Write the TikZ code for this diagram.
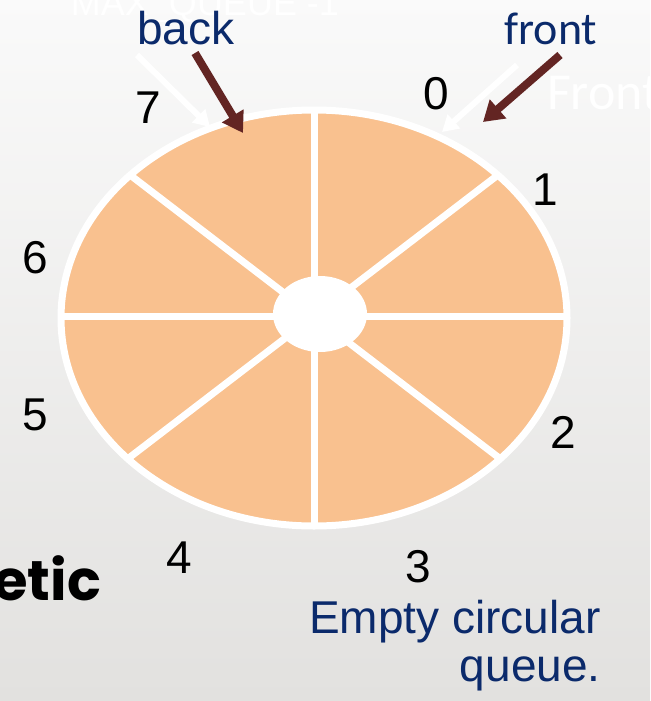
\documentclass[tikz,border=0pt]{standalone}
\usepackage{fontspec}
\setmainfont{Liberation Sans}
\newfontfamily\calfont{Carlito}
\newfontfamily\headfont{Poppins}
\usetikzlibrary{arrows.meta}
\definecolor{peach}{HTML}{F9C18F}
\definecolor{navy}{HTML}{0B2A6B}
\definecolor{arrowred}{HTML}{632523}
\definecolor{bgtop}{HTML}{FAFAFA}
\definecolor{bgbottom}{HTML}{E2E1DF}

\begin{document}
\begin{tikzpicture}[x=0.5pt,y=-0.5pt,font=\fontsize{23}{24}\selectfont,
  redarrow/.style={draw=arrowred,line width=4pt,-{Triangle[width=12pt,length=10pt]}},
  whitearrow/.style={draw=white,line width=3pt,-{Triangle[width=9pt,length=8pt]}},
  divider/.style={draw=white,line width=3.5pt}]
\useasboundingbox (0,0) rectangle (650,701);
\clip (0,0) rectangle (650,701);
\shade[top color=bgtop,bottom color=bgbottom] (0,0) rectangle (650,701);

\node[text=white,anchor=base,font=\fontsize{18}{20}\selectfont] (maxq) at (205,16) {MAX\_QUEUE -1};
\node[text=white,anchor=base west,font=\calfont\fontsize{26}{28}\selectfont] (frontw) at (540,110) {Front};

\coordinate (ctr) at (314,316);
\fill[peach] (314,318) ellipse [x radius=253,y radius=208];
\foreach \a in {0,43,90,137,180,223,270,317} {
  \draw[divider] (ctr) -- ++(\a:253 and 208);
}
\draw[white,line width=3.5pt] (314,318) ellipse [x radius=253,y radius=208];
\fill[white] (320,314) ellipse [x radius=47,y radius=38];

\foreach \i/\x/\y in {0/436/94,1/545/190,2/563/432,3/418/567,4/179/558,5/35/415,6/35/258,7/148/108} {
  \node (n\i) at (\x,\y) {\i};
}

\node[text=navy,anchor=base] (back) at (186,45) {back};
\node[text=navy,anchor=base,font=\calfont\fontsize{23}{24}\selectfont] (front) at (551,45) {front};

\coordinate (wtail1) at (137,55);
\coordinate (wtip1) at (210,127);
\coordinate (wtail2) at (517,65);
\coordinate (wtip2) at (442,132);
\draw[whitearrow] (wtail1) -- (wtip1);
\draw[whitearrow] (wtail2) -- (wtip2);

\coordinate (backtail) at (195,53);
\coordinate (backtip) at (243,133);
\coordinate (fronttail) at (560,55);
\coordinate (fronttip) at (483,122);
\draw[redarrow] (backtail) -- (backtip);
\draw[redarrow] (fronttail) -- (fronttip);

\node[anchor=base east,font=\headfont\bfseries\fontsize{28}{30}\selectfont] (etic) at (108,600) {etic};
\node[text=navy,align=right,anchor=north east,inner sep=0pt] (caption) at (601,600) {Empty circular\\queue.};
\end{tikzpicture}
\end{document}
